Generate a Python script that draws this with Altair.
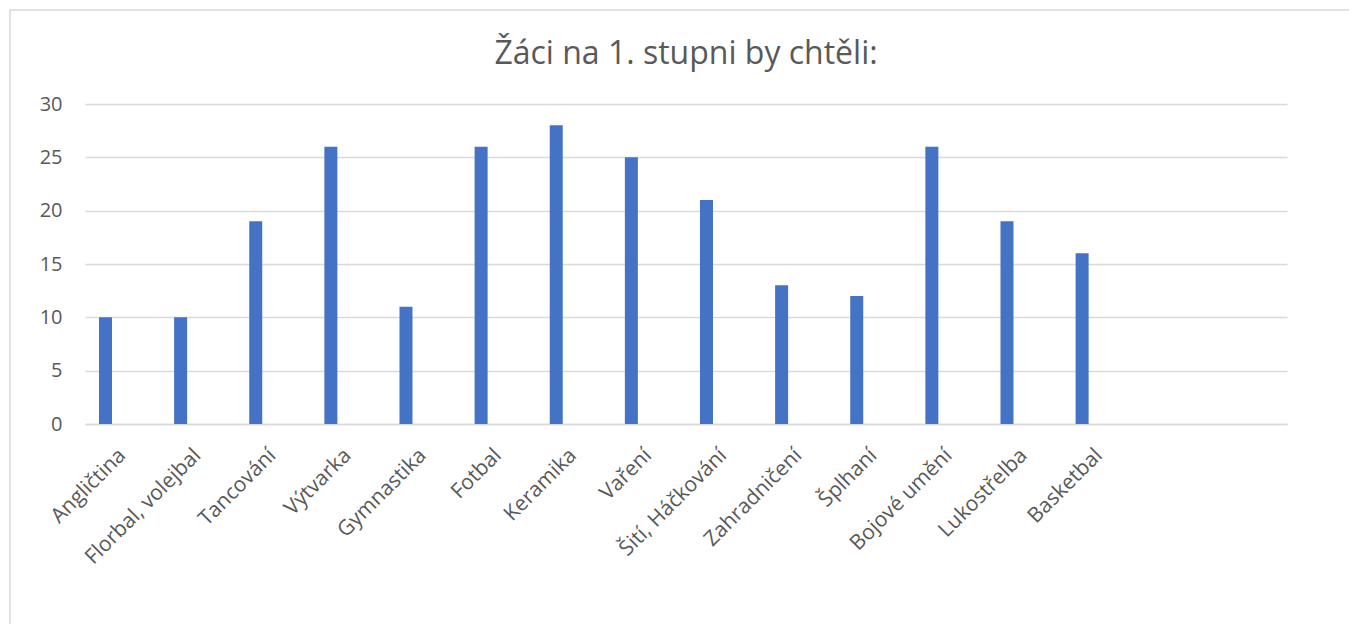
import altair as alt
import pandas as pd

categories = ["Angličtina", "Florbal, volejbal", "Tancování", "Výtvarka", "Gymnastika",
              "Fotbal", "Keramika", "Vaření", "Šití, Háčkování", "Zahradničení",
              "Šplhaní", "Bojové umění", "Lukostřelba", "Basketbal"]
values = [10, 10, 19, 26, 11, 26, 28, 25, 21, 13, 12, 26, 19, 16]
empty_slots = [" ", "  "]
series = ["Řada 1", "Řada 2"]

df = pd.DataFrame({"kat": categories, "pocet": values, "rada": series[0]})
domain = categories + empty_slots

FONT = "Open Sans"
GREY = "#595959"

border = alt.Chart(pd.DataFrame({"a": [0]})).mark_rect(
    fill=None, stroke="#d9d9d9", strokeWidth=1.5
).encode(
    x=alt.value(-75), x2=alt.value(1400), y=alt.value(-94), y2=alt.value(700)
)

bars = alt.Chart(df).mark_bar(color="#4472C4", width=13).encode(
    x=alt.X("kat:N", sort=domain,
            scale=alt.Scale(domain=domain, paddingInner=0, paddingOuter=0),
            axis=alt.Axis(title=None, labelAngle=-45, labelAlign="right",
                          labelBaseline="middle", labelPadding=28, ticks=False,
                          domain=True, domainColor="#d9d9d9", domainWidth=1.5,
                          labelFontSize=21, labelColor=GREY, labelFont=FONT,
                          labelOverlap=False, labelLimit=400)),
    xOffset=alt.XOffset("rada:N", scale=alt.Scale(domain=series, paddingInner=0, paddingOuter=0.1)),
    y=alt.Y("pocet:Q", scale=alt.Scale(domain=[0, 30], nice=False),
            axis=alt.Axis(title=None, values=[0, 5, 10, 15, 20, 25, 30], ticks=False,
                          domain=False, grid=True, gridColor="#d9d9d9", gridWidth=1.5,
                          labelFontSize=20, labelColor=GREY, labelFont=FONT,
                          labelPadding=23)),
)

chart = alt.layer(border, bars).properties(
    width=1202, height=320,
    background="white",
    title=alt.TitleParams("Žáci na 1. stupni by chtěli:", font=FONT, fontSize=32,
                          fontWeight="normal", color=GREY, anchor="middle",
                          frame="group", baseline="alphabetic", offset=0, dy=87),
    autosize=alt.AutoSizeParams(type="none"),
    padding={"left": 77, "top": 96, "right": 62, "bottom": 200},
).configure_view(strokeWidth=0, stroke="transparent")

chart.save("out.html", embed_options={"renderer": "svg", "actions": False})
